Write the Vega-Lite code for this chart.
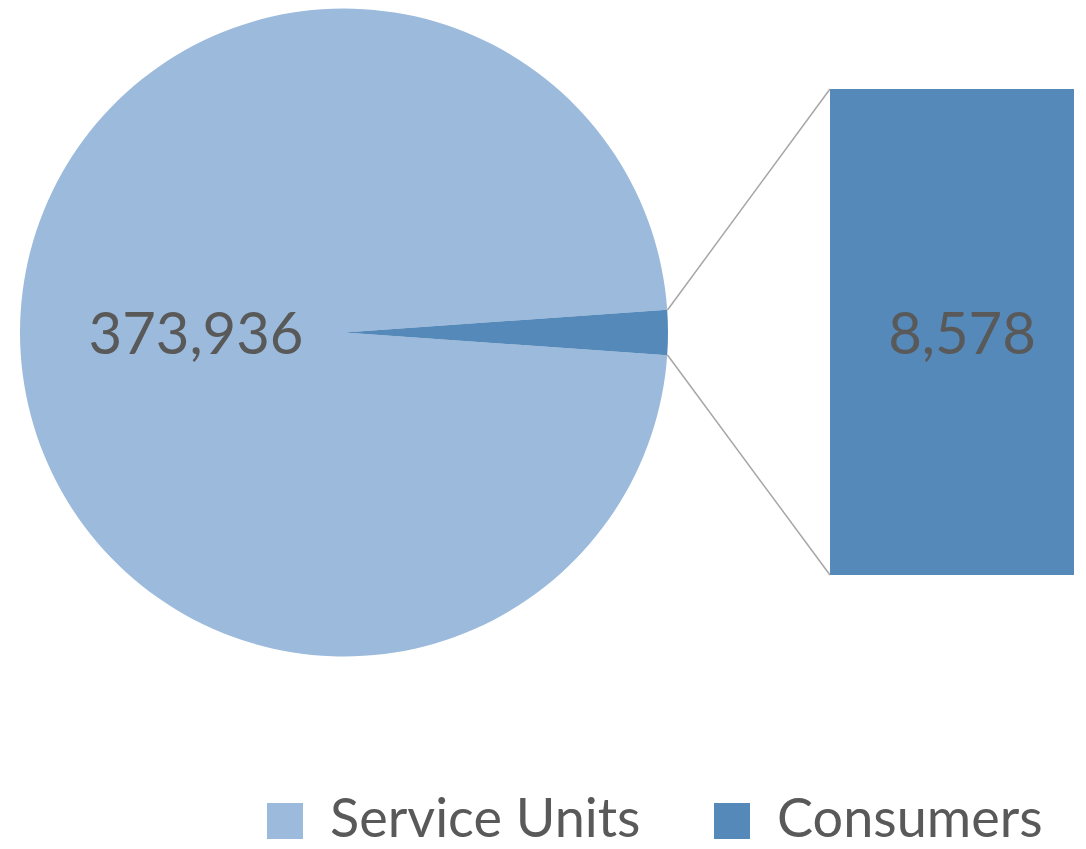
{
  "$schema": "https://vega.github.io/schema/vega-lite/v6.json",
  "width": 1086,
  "height": 849,
  "padding": 0,
  "autosize": {"type": "none"},
  "background": "white",
  "view": {"stroke": null},
  "config": {"font": "Lato"},
  "data": {"values": [
    {"category": "Service Units", "value": 373936},
    {"category": "Consumers", "value": 8578}
  ]},
  "layer": [
    {
      "mark": {"type": "arc", "outerRadius": 324},
      "encoding": {
        "theta": {"field": "value", "type": "quantitative", "stack": true, "scale": {"range": [1.50033, 7.78352]}},
        "order": {"field": "category", "sort": "ascending"},
        "color": {
          "field": "category", "type": "nominal",
          "scale": {"domain": ["Service Units", "Consumers"], "range": ["#9BBADC", "#5589BA"]},
          "legend": {
            "title": null, "orient": "none", "direction": "horizontal",
            "legendX": 258, "legendY": 794, "padding": 0,
            "symbolType": "square", "symbolSize": 1296, "symbolStrokeWidth": 0,
            "labelFont": "Lato", "labelFontSize": 54, "labelColor": "#595959",
            "labelOffset": 18, "columnPadding": 64, "labelLimit": 600
          }
        },
        "x": {"datum": 344, "type": "quantitative", "axis": null, "scale": {"domain": [0, 1086], "nice": false, "zero": false}},
        "y": {"datum": 332.5, "type": "quantitative", "axis": null, "scale": {"domain": [0, 849], "nice": false, "zero": false, "reverse": true}}
      }
    },
    {
      "transform": [{"filter": "datum.category === 'Consumers'"}],
      "mark": {"type": "rect"},
      "encoding": {
        "x": {"datum": 830, "type": "quantitative", "axis": null},
        "x2": {"datum": 1074},
        "y": {"datum": 89, "type": "quantitative", "axis": null},
        "y2": {"datum": 575},
        "color": {"field": "category", "type": "nominal"}
      }
    },
    {
      "transform": [{"filter": "datum.category === 'Consumers'"}],
      "mark": {"type": "rule", "color": "#A6A6A6", "strokeWidth": 1.5},
      "encoding": {
        "x": {"datum": 667.5, "type": "quantitative", "axis": null},
        "y": {"datum": 310, "type": "quantitative", "axis": null},
        "x2": {"datum": 830},
        "y2": {"datum": 89}
      }
    },
    {
      "transform": [{"filter": "datum.category === 'Consumers'"}],
      "mark": {"type": "rule", "color": "#A6A6A6", "strokeWidth": 1.5},
      "encoding": {
        "x": {"datum": 667.5, "type": "quantitative", "axis": null},
        "y": {"datum": 355, "type": "quantitative", "axis": null},
        "x2": {"datum": 830},
        "y2": {"datum": 575}
      }
    },
    {
      "transform": [{"filter": "datum.category === 'Service Units'"}],
      "mark": {"type": "text", "font": "Lato", "fontSize": 58, "color": "#595959", "align": "center", "baseline": "middle"},
      "encoding": {
        "x": {"datum": 196, "type": "quantitative", "axis": null},
        "y": {"datum": 337, "type": "quantitative", "axis": null},
        "text": {"field": "value", "type": "quantitative", "format": ",.0f"}
      }
    },
    {
      "transform": [{"filter": "datum.category === 'Consumers'"}],
      "mark": {"type": "text", "font": "Lato", "fontSize": 58, "color": "#595959", "align": "center", "baseline": "middle"},
      "encoding": {
        "x": {"datum": 962, "type": "quantitative", "axis": null},
        "y": {"datum": 337, "type": "quantitative", "axis": null},
        "text": {"field": "value", "type": "quantitative", "format": ",.0f"}
      }
    }
  ]
}
